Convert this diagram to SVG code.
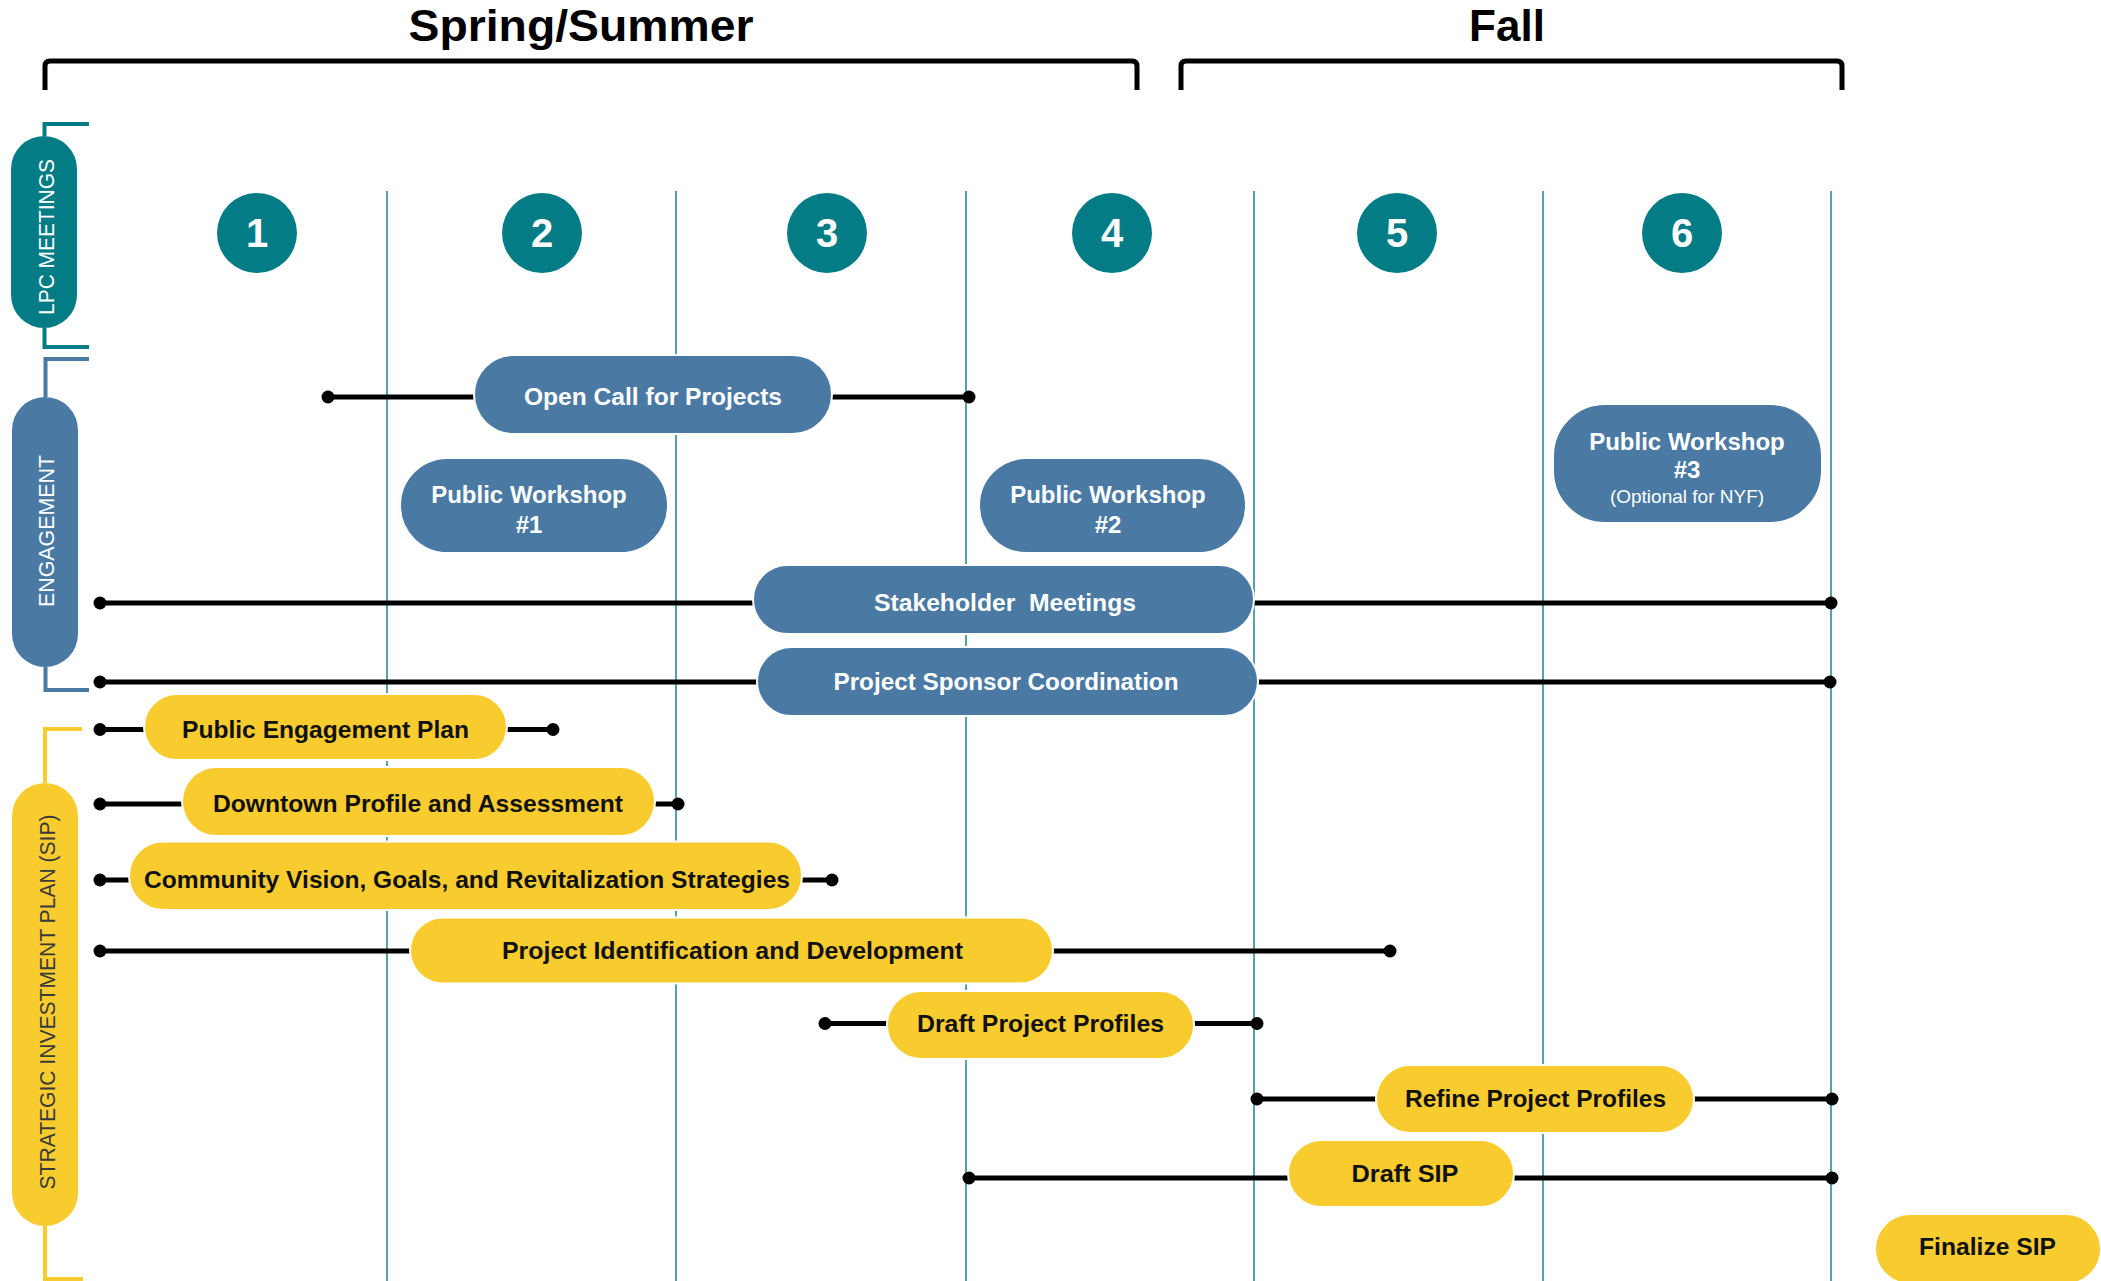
<svg xmlns="http://www.w3.org/2000/svg" width="2101" height="1281" viewBox="0 0 2101 1281">
<style>
.head{font-family:"Liberation Sans",Arial,sans-serif;font-weight:bold;font-size:44px;fill:#000;text-anchor:middle}
.brk{fill:none;stroke:#000;stroke-width:5}
.grid{stroke:#2a8c94;stroke-width:1.6}
.conn{stroke:#000;stroke-width:5;fill:none}
.dot{fill:#000}
.num{fill:#047c85}
.numt{font-family:"Liberation Sans",Arial,sans-serif;font-weight:bold;font-size:40px;fill:#fff;text-anchor:middle}
.blue{fill:#4a7aa4;stroke:#fff;stroke-width:2}
.yel{fill:#f8cc2f;stroke:#fff;stroke-width:2}
.wt{font-family:"Liberation Sans",Arial,sans-serif;font-weight:bold;font-size:24px;fill:#fff;text-anchor:middle}
.bt{font-family:"Liberation Sans",Arial,sans-serif;font-weight:bold;font-size:24px;fill:#111;text-anchor:middle}
.small{font-family:"Liberation Sans",Arial,sans-serif;font-size:19px;fill:#fff;text-anchor:middle}
.side{font-family:"Liberation Sans",Arial,sans-serif;font-size:22px;text-anchor:middle}
</style>
<rect width="2101" height="1281" fill="#fff"/>

<g id="season-headers">
<text class="head" x="581" y="41" textLength="345" lengthAdjust="spacingAndGlyphs">Spring/Summer</text>
<text class="head" x="1507" y="41">Fall</text>
<path class="brk" d="M45,90 V66 Q45,61 50,61 H1132 Q1137,61 1137,66 V90"/>
<path class="brk" d="M1181,90 V66 Q1181,61 1186,61 H1837 Q1842,61 1842,66 V90"/>
</g>

<g id="grid-lines">
<line class="grid" x1="387" y1="191" x2="387" y2="1281"/>
<line class="grid" x1="676" y1="191" x2="676" y2="1281"/>
<line class="grid" x1="966" y1="191" x2="966" y2="1281"/>
<line class="grid" x1="1254" y1="191" x2="1254" y2="1281"/>
<line class="grid" x1="1543" y1="191" x2="1543" y2="1281"/>
<line class="grid" x1="1831" y1="191" x2="1831" y2="1281"/>
</g>

<g id="lane-lpc">
<path d="M89,124 H44.5 V136 M44.5,328 V347 H89" fill="none" stroke="#047c85" stroke-width="4"/>
<rect x="11" y="136" width="66" height="192" rx="33" fill="#047c85"/>
<text class="side" fill="#fff" transform="translate(54,237) rotate(-90)" textLength="156" lengthAdjust="spacingAndGlyphs">LPC MEETINGS</text>
</g>
<g id="lane-engagement">
<path d="M89,359 H45.5 V397 M45.5,667 V690 H89" fill="none" stroke="#4a7aa4" stroke-width="4"/>
<rect x="12" y="397" width="66" height="270" rx="33" fill="#4a7aa4"/>
<text class="side" fill="#fff" transform="translate(54,531) rotate(-90)" textLength="152" lengthAdjust="spacingAndGlyphs">ENGAGEMENT</text>
</g>
<g id="lane-sip">
<path d="M82,729 H45 V783 M45,1226 V1279 H83" fill="none" stroke="#f8cc2f" stroke-width="4"/>
<rect x="12" y="783" width="66" height="443" rx="33" fill="#f8cc2f"/>
<text class="side" fill="#3a3a3a" transform="translate(55,1002) rotate(-90)" textLength="375" lengthAdjust="spacingAndGlyphs">STRATEGIC INVESTMENT PLAN (SIP)</text>
</g>

<g id="meeting-1"><circle class="num" cx="257" cy="233" r="40"/><text class="numt" x="257" y="247">1</text></g>
<g id="meeting-2"><circle class="num" cx="542" cy="233" r="40"/><text class="numt" x="542" y="247">2</text></g>
<g id="meeting-3"><circle class="num" cx="827" cy="233" r="40"/><text class="numt" x="827" y="247">3</text></g>
<g id="meeting-4"><circle class="num" cx="1112" cy="233" r="40"/><text class="numt" x="1112" y="247">4</text></g>
<g id="meeting-5"><circle class="num" cx="1397" cy="233" r="40"/><text class="numt" x="1397" y="247">5</text></g>
<g id="meeting-6"><circle class="num" cx="1682" cy="233" r="40"/><text class="numt" x="1682" y="247">6</text></g>

<g id="connectors">
<line class="conn" x1="328" y1="397" x2="969" y2="397"/>
<circle class="dot" cx="328" cy="397" r="6.5"/><circle class="dot" cx="969" cy="397" r="6.5"/>
<line class="conn" x1="100" y1="603" x2="1831" y2="603" stroke-width="6"/>
<circle class="dot" cx="100" cy="603" r="6.5"/><circle class="dot" cx="1831" cy="603" r="6.5"/>
<line class="conn" x1="100" y1="682" x2="1830" y2="682"/>
<circle class="dot" cx="100" cy="682" r="6.5"/><circle class="dot" cx="1830" cy="682" r="6.5"/>
<line class="conn" x1="100" y1="729.5" x2="553" y2="729.5"/>
<circle class="dot" cx="100" cy="729.5" r="6.5"/><circle class="dot" cx="553" cy="729.5" r="6.5"/>
<line class="conn" x1="100" y1="804" x2="678" y2="804"/>
<circle class="dot" cx="100" cy="804" r="6.5"/><circle class="dot" cx="678" cy="804" r="6.5"/>
<line class="conn" x1="100" y1="880" x2="832" y2="880"/>
<circle class="dot" cx="100" cy="880" r="6.5"/><circle class="dot" cx="832" cy="880" r="6.5"/>
<line class="conn" x1="100" y1="951" x2="1390" y2="951" stroke-width="4"/>
<circle class="dot" cx="100" cy="951" r="6.5"/><circle class="dot" cx="1390" cy="951" r="6.5"/>
<line class="conn" x1="825" y1="1023.5" x2="1257" y2="1023.5"/>
<circle class="dot" cx="825" cy="1023.5" r="6.5"/><circle class="dot" cx="1257" cy="1023.5" r="6.5"/>
<line class="conn" x1="1257" y1="1099" x2="1832" y2="1099"/>
<circle class="dot" cx="1257" cy="1099" r="6.5"/><circle class="dot" cx="1832" cy="1099" r="6.5"/>
<line class="conn" x1="969" y1="1178" x2="1832" y2="1178"/>
<circle class="dot" cx="969" cy="1178" r="6.5"/><circle class="dot" cx="1832" cy="1178" r="6.5"/>
</g>

<g id="open-call">
<rect class="blue" x="474" y="355" width="358" height="79" rx="39.5"/>
<text class="wt" x="653" y="405" textLength="258" lengthAdjust="spacingAndGlyphs">Open Call for Projects</text>
</g>
<g id="public-workshop-1">
<rect class="blue" x="400" y="458" width="268" height="95" rx="47.5"/>
<text class="wt" x="529" y="503">Public Workshop</text>
<text class="wt" x="529" y="533">#1</text>
</g>
<g id="public-workshop-2">
<rect class="blue" x="979" y="458" width="267" height="95" rx="47.5"/>
<text class="wt" x="1108" y="503">Public Workshop</text>
<text class="wt" x="1108" y="533">#2</text>
</g>
<g id="public-workshop-3">
<rect class="blue" x="1553" y="404" width="269" height="119" rx="52"/>
<text class="wt" x="1687" y="450">Public Workshop</text>
<text class="wt" x="1687" y="478">#3</text>
<text class="small" x="1687" y="503">(Optional for NYF)</text>
</g>
<g id="stakeholder-meetings">
<rect class="blue" x="753" y="565" width="501" height="69" rx="34.5"/>
<text class="wt" x="1005" y="611" xml:space="preserve" textLength="262" lengthAdjust="spacingAndGlyphs">Stakeholder  Meetings</text>
</g>
<g id="project-sponsor-coordination">
<rect class="blue" x="757" y="647" width="501" height="69" rx="34.5"/>
<text class="wt" x="1006" y="690" textLength="345" lengthAdjust="spacingAndGlyphs">Project Sponsor Coordination</text>
</g>

<g id="public-engagement-plan">
<rect class="yel" x="144" y="694" width="363" height="66" rx="33"/>
<text class="bt" x="325.5" y="738" textLength="287" lengthAdjust="spacingAndGlyphs">Public Engagement Plan</text>
</g>
<g id="downtown-profile">
<rect class="yel" x="182" y="767" width="473" height="69" rx="34.5"/>
<text class="bt" x="418" y="812" textLength="410" lengthAdjust="spacingAndGlyphs">Downtown Profile and Assessment</text>
</g>
<g id="community-vision">
<rect class="yel" x="129" y="841.5" width="673" height="68.5" rx="34"/>
<text class="bt" x="467" y="888" textLength="646" lengthAdjust="spacingAndGlyphs">Community Vision, Goals, and Revitalization Strategies</text>
</g>
<g id="project-identification">
<rect class="yel" x="410" y="917.5" width="643" height="66" rx="33"/>
<text class="bt" x="732.5" y="959" textLength="461" lengthAdjust="spacingAndGlyphs">Project Identification and Development</text>
</g>
<g id="draft-project-profiles">
<rect class="yel" x="887" y="991" width="307" height="68" rx="34"/>
<text class="bt" x="1040.5" y="1032" textLength="247" lengthAdjust="spacingAndGlyphs">Draft Project Profiles</text>
</g>
<g id="refine-project-profiles">
<rect class="yel" x="1376" y="1065" width="318" height="68" rx="34"/>
<text class="bt" x="1535.5" y="1107" textLength="261" lengthAdjust="spacingAndGlyphs">Refine Project Profiles</text>
</g>
<g id="draft-sip">
<rect class="yel" x="1288" y="1140" width="226" height="67" rx="33.5"/>
<text class="bt" x="1405" y="1182" textLength="107" lengthAdjust="spacingAndGlyphs">Draft SIP</text>
</g>
<g id="finalize-sip">
<rect class="yel" x="1875" y="1214" width="226" height="70" rx="35"/>
<text class="bt" x="1987.5" y="1255" textLength="137" lengthAdjust="spacingAndGlyphs">Finalize SIP</text>
</g>
</svg>
